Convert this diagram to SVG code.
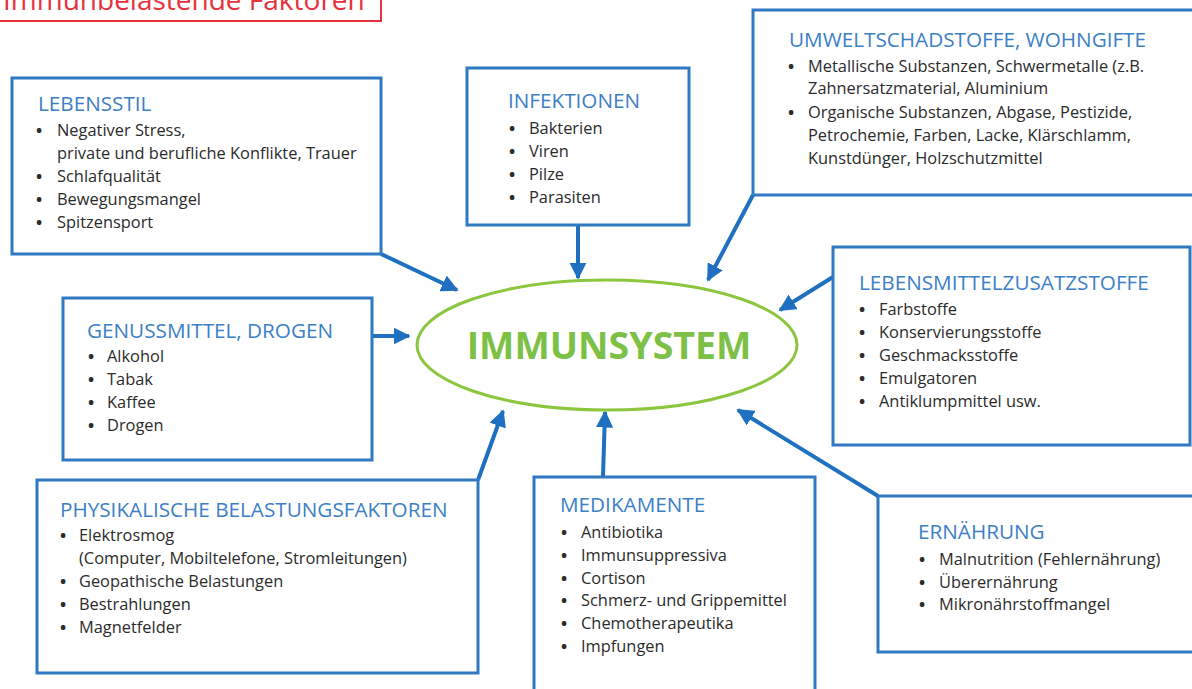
<svg xmlns="http://www.w3.org/2000/svg" width="1192" height="689" viewBox="0 0 1192 689">
<defs>
<style>
.box{fill:#fff;stroke:#2f78c2;stroke-width:3}
.t{font-family:"Open Sans","Liberation Sans",sans-serif;font-size:20.7px;fill:#3c80c6}
.b{font-family:"Open Sans","Liberation Sans",sans-serif;font-size:16.4px;fill:#2b2b2b}
.b tspan:nth-child(odd){}
.d{font-weight:bold}
.c{stroke:#1f70c1;stroke-width:4;fill:none;marker-end:url(#ah)}
</style>
<marker id="ah" viewBox="0 0 10 10" refX="9" refY="5" markerWidth="4.3" markerHeight="4.3" orient="auto" markerUnits="strokeWidth">
<path d="M0,0 L10,5 L0,10 z" fill="#1f70c1"/>
</marker>
</defs>
<rect width="1192" height="689" fill="#fff"/>
<g id="title">
<rect x="-4" y="-20" width="385" height="41" fill="none" stroke="#e6323e" stroke-width="2"/>
<text x="3" y="10" font-family="Open Sans, Liberation Sans, sans-serif" font-size="28" fill="#e6323e">Immunbelastende Faktoren</text>
</g>
<g id="connectors">
<line class="c" x1="381" y1="254" x2="457" y2="290"/>
<line class="c" x1="578" y1="226" x2="578" y2="278"/>
<line class="c" x1="753" y1="195" x2="708" y2="280"/>
<line class="c" x1="833" y1="277" x2="780" y2="310"/>
<line class="c" x1="372" y1="336" x2="409" y2="336"/>
<line class="c" x1="478" y1="480" x2="503" y2="411"/>
<line class="c" x1="603" y1="477" x2="605" y2="412"/>
<line class="c" x1="878" y1="496" x2="738" y2="410"/>
</g>
<g id="immunsystem">
<ellipse cx="607" cy="345" rx="190" ry="65" fill="#fff" stroke="#8cc63f" stroke-width="3"/>
<text x="609" y="359" text-anchor="middle" font-family="Open Sans, Liberation Sans, sans-serif" font-size="37.5" font-weight="bold" fill="#7cc145">IMMUNSYSTEM</text>
</g>
<g id="lebensstil">
<rect class="box" x="12" y="78" width="369" height="176"/>
<text class="t" x="38" y="111">LEBENSSTIL</text>
<text class="b"><tspan class="d" x="36" y="136">•</tspan><tspan x="57" y="136">Negativer Stress,</tspan><tspan x="57" y="159">private und berufliche Konflikte, Trauer</tspan><tspan class="d" x="36" y="182">•</tspan><tspan x="57" y="182">Schlafqualität</tspan><tspan class="d" x="36" y="205">•</tspan><tspan x="57" y="205">Bewegungsmangel</tspan><tspan class="d" x="36" y="228">•</tspan><tspan x="57" y="228">Spitzensport</tspan></text>
</g>
<g id="infektionen">
<rect class="box" x="467" y="68" width="222" height="157"/>
<text class="t" x="508" y="108">INFEKTIONEN</text>
<text class="b"><tspan class="d" x="509" y="134">•</tspan><tspan x="529" y="134">Bakterien</tspan><tspan class="d" x="509" y="157">•</tspan><tspan x="529" y="157">Viren</tspan><tspan class="d" x="509" y="180">•</tspan><tspan x="529" y="180">Pilze</tspan><tspan class="d" x="509" y="203">•</tspan><tspan x="529" y="203">Parasiten</tspan></text>
</g>
<g id="umwelt">
<rect class="box" x="753" y="10" width="445" height="185"/>
<text class="t" x="789" y="47">UMWELTSCHADSTOFFE, WOHNGIFTE</text>
<text class="b"><tspan class="d" x="788" y="72">•</tspan><tspan x="808" y="72">Metallische Substanzen, Schwermetalle (z.B.</tspan><tspan x="808" y="94">Zahnersatzmaterial, Aluminium</tspan><tspan class="d" x="788" y="118">•</tspan><tspan x="808" y="118">Organische Substanzen, Abgase, Pestizide,</tspan><tspan x="808" y="141">Petrochemie, Farben, Lacke, Klärschlamm,</tspan><tspan x="808" y="164">Kunstdünger, Holzschutzmittel</tspan></text>
</g>
<g id="lebensmittel">
<rect class="box" x="833" y="247" width="357" height="198"/>
<text class="t" x="859" y="290">LEBENSMITTELZUSATZSTOFFE</text>
<text class="b"><tspan class="d" x="859" y="315">•</tspan><tspan x="879" y="315">Farbstoffe</tspan><tspan class="d" x="859" y="338">•</tspan><tspan x="879" y="338">Konservierungsstoffe</tspan><tspan class="d" x="859" y="361">•</tspan><tspan x="879" y="361">Geschmacksstoffe</tspan><tspan class="d" x="859" y="384">•</tspan><tspan x="879" y="384">Emulgatoren</tspan><tspan class="d" x="859" y="407">•</tspan><tspan x="879" y="407">Antiklumpmittel usw.</tspan></text>
</g>
<g id="genussmittel">
<rect class="box" x="63" y="298" width="309" height="162"/>
<text class="t" x="87" y="338">GENUSSMITTEL, DROGEN</text>
<text class="b"><tspan class="d" x="88" y="362">•</tspan><tspan x="107" y="362">Alkohol</tspan><tspan class="d" x="88" y="385">•</tspan><tspan x="107" y="385">Tabak</tspan><tspan class="d" x="88" y="408">•</tspan><tspan x="107" y="408">Kaffee</tspan><tspan class="d" x="88" y="431">•</tspan><tspan x="107" y="431">Drogen</tspan></text>
</g>
<g id="physikalisch">
<rect class="box" x="37" y="480" width="441" height="193"/>
<text class="t" x="60" y="517">PHYSIKALISCHE BELASTUNGSFAKTOREN</text>
<text class="b"><tspan class="d" x="60" y="541">•</tspan><tspan x="79" y="541">Elektrosmog</tspan><tspan x="79" y="564">(Computer, Mobiltelefone, Stromleitungen)</tspan><tspan class="d" x="60" y="587">•</tspan><tspan x="79" y="587">Geopathische Belastungen</tspan><tspan class="d" x="60" y="610">•</tspan><tspan x="79" y="610">Bestrahlungen</tspan><tspan class="d" x="60" y="633">•</tspan><tspan x="79" y="633">Magnetfelder</tspan></text>
</g>
<g id="medikamente">
<rect class="box" x="534" y="477" width="281" height="220"/>
<text class="t" x="560" y="512">MEDIKAMENTE</text>
<text class="b"><tspan class="d" x="561" y="538">•</tspan><tspan x="581" y="538">Antibiotika</tspan><tspan class="d" x="561" y="561">•</tspan><tspan x="581" y="561">Immunsuppressiva</tspan><tspan class="d" x="561" y="584">•</tspan><tspan x="581" y="584">Cortison</tspan><tspan class="d" x="561" y="606">•</tspan><tspan x="581" y="606">Schmerz- und Grippemittel</tspan><tspan class="d" x="561" y="629">•</tspan><tspan x="581" y="629">Chemotherapeutika</tspan><tspan class="d" x="561" y="652">•</tspan><tspan x="581" y="652">Impfungen</tspan></text>
</g>
<g id="ernaehrung">
<rect class="box" x="878" y="496" width="320" height="156"/>
<text class="t" x="918" y="539">ERNÄHRUNG</text>
<text class="b"><tspan class="d" x="919" y="565">•</tspan><tspan x="939" y="565">Malnutrition (Fehlernährung)</tspan><tspan class="d" x="919" y="588">•</tspan><tspan x="939" y="588">Überernährung</tspan><tspan class="d" x="919" y="610">•</tspan><tspan x="939" y="610">Mikronährstoffmangel</tspan></text>
</g>
</svg>
